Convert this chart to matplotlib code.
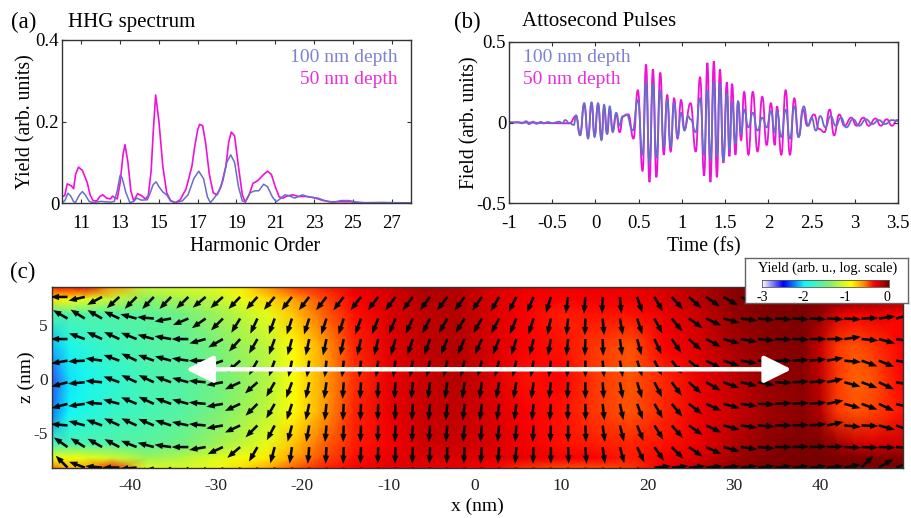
import numpy as np
import matplotlib
matplotlib.use("Agg")
import matplotlib.pyplot as plt
from matplotlib.colors import LinearSegmentedColormap
from matplotlib.path import Path
from matplotlib.patches import PathPatch

plt.rcParams['font.family'] = ['Liberation Serif', 'DejaVu Serif']

# ---------- (a) HHG spectrum ----------
spec_x_50 = [10.0,10.14,10.27,10.48,10.6,10.7,10.85,11.05,11.3,11.45,11.6,11.8,11.95,12.1,12.3,12.5,12.6,12.75,12.85,13.0,13.15,13.25,13.4,13.55,13.7,13.9,14.1,14.3,14.45,14.6,14.7,14.83,15.0,15.2,15.4,15.6,15.85,16.1,16.4,16.7,16.85,17.0,17.1,17.25,17.4,17.6,17.8,18.0,18.2,18.45,18.6,18.73,18.9,19.1,19.3,19.45,19.65,19.85,20.1,20.4,20.6,20.8,21.0,21.2,21.4,21.6,21.9,22.2,22.6,23.0,23.4,23.8,24.4,24.9,25.3,26.0,28.0]
spec_y_50 = [.016,.018,.047,.042,.035,.07,.088,.08,.05,.02,.006,.005,.016,.02,.012,.01,.017,.012,.01,.05,.12,.143,.1,.03,.005,.023,.018,.01,.018,.08,.17,.265,.2,.09,.025,.006,.001,.008,.035,.09,.14,.18,.193,.19,.15,.07,.025,.02,.04,.09,.15,.174,.165,.09,.02,.002,.02,.048,.055,.07,.078,.07,.04,.015,.012,.017,.02,.016,.016,.013,.007,.003,.003,.003,.001,.0005,0]
spec_x_100 = [10.0,10.15,10.3,10.45,10.6,10.7,10.9,11.05,11.2,11.4,11.6,12.0,12.5,12.7,12.85,13.0,13.1,13.3,13.5,13.7,13.85,14.1,14.4,14.55,14.7,14.85,15.0,15.2,15.4,15.6,15.85,16.2,16.5,16.8,17.05,17.3,17.5,17.65,17.85,18.1,18.3,18.5,18.7,18.9,19.1,19.3,19.45,19.7,19.95,20.15,20.4,20.6,20.85,21.05,21.3,21.5,21.7,22.0,22.4,22.7,23.2,23.6,24.0,24.4,24.8,25.2,25.6,26.5,27.0,28.0]
spec_y_100 = [.001,.006,.024,.017,.003,.002,.02,.028,.02,.004,.001,.004,.002,.004,.03,.068,.062,.025,.001,.004,.012,.007,.008,.025,.045,.052,.04,.027,.02,.005,.001,.005,.02,.06,.078,.06,.015,.001,.012,.03,.055,.1,.118,.1,.04,.005,.003,.025,.03,.03,.046,.04,.015,.003,.012,.02,.018,.012,.02,.015,.012,.005,.002,.006,.006,.002,.0005,.0015,.001,0]

# ---------- (b) Attosecond pulses (turning points of the field) ----------
t_100 = [-1,-.9,-.85,-.8,-.77,-.72,-.68,-.63,-.6,-.55,-.5,-.42,-.38,-.35,-.3,-.25,-.225,-.178,-.13,-.085,-.045,-.01,.03,.07,.1,.135,.165,.2,.24,.28,.31,.36,.43,.49,.545,.585,.625,.665,.705,.75,.79,.83,.87,.91,.95,.99,1.03,1.07,1.1,1.16,1.21,1.257,1.295,1.33,1.37,1.405,1.44,1.48,1.52,1.55,1.58,1.62,1.65,1.685,1.72,1.77,1.82,1.875,1.93,1.98,2.03,2.075,2.1,2.15,2.2,2.25,2.3,2.35,2.41,2.46,2.5,2.55,2.6,2.66,2.72,2.78,2.84,2.9,2.98,3.05,3.13,3.2,3.28,3.35,3.43,3.5]
f_100 = [0,.002,-.005,.008,-.01,.005,-.008,.004,-.006,.003,-.004,.005,-.005,.015,-.005,-.015,.045,-.08,.12,-.1,.125,-.09,.12,-.11,.11,-.07,.1,-.06,.06,-.02,.035,.05,-.05,.14,-.2,.25,-.25,.24,-.22,.2,-.15,.14,-.15,.12,-.09,.06,-.05,.04,.02,-.06,.15,-.2,.2,-.23,.25,-.21,.24,-.24,.18,-.17,.13,-.13,.13,-.07,.08,-.03,.06,-.05,.03,-.03,.07,-.06,.07,-.09,.08,-.1,.1,-.09,.1,-.02,.03,-.05,.04,-.03,.04,-.02,.03,-.03,.02,-.02,.02,-.01,.015,-.01,.015,.01]
t_50 = [-1,-.3,-.225,-.178,-.13,-.085,-.045,-.01,.03,.07,.1,.135,.165,.2,.24,.28,.32,.38,.44,.49,.545,.585,.625,.665,.705,.75,.79,.83,.87,.91,.95,.99,1.03,1.1,1.16,1.21,1.257,1.295,1.33,1.37,1.405,1.44,1.48,1.52,1.55,1.58,1.62,1.65,1.685,1.72,1.77,1.82,1.875,1.93,1.98,2.03,2.075,2.1,2.15,2.2,2.25,2.3,2.35,2.4,2.45,2.53,2.585,2.65,2.71,2.76,2.82,2.88,2.96,3.02,3.1,3.16,3.24,3.3,3.37,3.43,3.49,3.5]
f_50 = [0,-.005,.04,-.075,.11,-.09,.12,-.08,.11,-.1,.09,-.07,.08,-.05,.05,-.06,.04,.05,-.1,.2,-.3,.36,-.37,.33,-.34,.31,-.2,.17,-.18,.15,-.1,.14,-.04,.12,-.18,.28,-.33,.37,-.37,.38,-.34,.33,-.25,.25,-.21,.24,-.2,.13,-.11,.19,-.2,.19,-.18,.16,-.14,.12,-.14,.1,-.2,.2,-.2,.15,-.09,.08,-.02,.05,-.04,-.06,.08,-.08,.05,-.02,.03,-.02,.03,-.02,.025,-.02,.02,-.02,.015,.01]

# ---------- (c) yield map ----------
map_x = [-49.4,-47,-45,-42,-38,-34,-30,-27,-24,-21,-18,-14,-10,-6,-2,2,6,10,14,18,22,26,30,34,38,40,42,44,46,49.6]
map_z = [8.6,7.4,6,3,0,-3,-6,-7.3,-8.4]
map_r0 = [-.4,-.35,-.3,-.6,-1.1,-1.05,-1.0,-.85,-.6,-.45,-.4,-.3,-.22,-.12,-.15,-.25,-.3,-.32,-.3,-.3,-.25,-.15,-.05,-.02,0,0,0,0,-.02,-.02]
map_r1 = [-.8,-.9,-1.0,-1.15,-1.35,-1.25,-1.15,-.98,-.8,-.65,-.5,-.35,-.25,-.15,-.15,-.25,-.32,-.35,-.32,-.32,-.25,-.15,-.05,-.02,0,0,-.02,-.02,-.05,-.1]
map_r2 = [-1.7,-1.65,-1.65,-1.65,-1.6,-1.5,-1.3,-1.15,-1.0,-.75,-.55,-.38,-.25,-.18,-.15,-.25,-.35,-.4,-.38,-.38,-.3,-.2,-.08,-.03,-.02,-.08,-.25,-.35,-.3,-.35]
map_r3 = [-2.15,-1.95,-1.85,-1.75,-1.65,-1.6,-1.45,-1.3,-1.15,-.9,-.68,-.42,-.27,-.18,-.15,-.25,-.35,-.38,-.45,-.5,-.35,-.25,-.12,-.05,-.03,-.2,-.45,-.5,-.45,-.35]
map_r4 = [-2.6,-2.05,-1.95,-1.85,-1.7,-1.65,-1.5,-1.35,-1.2,-.92,-.7,-.44,-.3,-.2,-.15,-.25,-.38,-.35,-.45,-.5,-.42,-.3,-.18,-.08,-.05,-.18,-.45,-.52,-.5,-.35]
map_r5 = [-2.3,-2.0,-1.9,-1.8,-1.7,-1.62,-1.45,-1.3,-1.15,-.9,-.68,-.42,-.3,-.2,-.18,-.25,-.35,-.38,-.45,-.5,-.42,-.3,-.2,-.1,-.05,-.15,-.45,-.5,-.48,-.38]
map_r6 = [-1.75,-1.7,-1.68,-1.65,-1.6,-1.5,-1.3,-1.15,-1.0,-.75,-.55,-.4,-.33,-.22,-.2,-.25,-.33,-.38,-.4,-.42,-.38,-.3,-.15,-.05,-.02,-.02,-.1,-.2,-.25,-.2]
map_r7 = [-1,-.95,-1,-1.1,-1.3,-1.2,-1.05,-.95,-.85,-.65,-.5,-.38,-.3,-.25,-.25,-.28,-.3,-.33,-.35,-.4,-.33,-.25,-.1,-.03,0,0,-.02,-.02,-.03,-.03]
map_r8 = [-.5,-.7,-.6,-.35,-1,-1.05,-.95,-.8,-.65,-.5,-.4,-.35,-.28,-.28,-.3,-.35,-.45,-.5,-.5,-.45,-.3,-.15,-.05,-.02,0,0,0,0,0,0]

# arrow field: tails and direction (degrees, counter-clockwise from +x)
arrow_x = [-47.2,-45.2,-43.2,-41.2,-39.2,-37.2,-35.2,-33.2,-31.2,-29.2,-27.2,-25.2,-23.2,-21.2,-19.2,-17.2,-15.2,-13.2,-11.2,-9.2,-7.2,-5.2,-3.2,-1.2,.8,2.8,4.8,6.8,8.8,10.8,12.8,14.8,16.8,18.8,20.8,22.8,24.8,26.8,28.8,30.8,32.8,34.8,36.8,38.8,40.8,42.8,44.8,46.8,48.8]
arrow_z = [7.6,5.6,3.7,1.7,-.3,-2.3,-4.3,-6.3,-8.2]
ang_r0 = [180,193,208,222,225,226,226,224,220,222,226,228,230,232,232,232,232,232,232,233,233,233,233,234,235,240,243,247,253,262,265,268,275,288,300,312,318,325,330,335,338,340,345,350,352,355,5,15,20]
ang_r1 = [150,148,150,155,165,175,190,203,215,225,238,245,250,252,252,252,252,250,248,247,245,243,240,238,240,242,247,252,258,264,268,275,280,288,298,310,325,335,345,353,355,357,357,357,357,357,2,8,15]
ang_r2 = [180,160,155,155,158,165,170,180,195,210,228,240,250,255,258,258,258,257,256,254,252,250,248,246,246,248,252,256,260,264,268,272,278,285,295,305,318,332,345,350,355,358,358,0,0,8,355,345,350]
ang_r3 = [190,183,172,160,155,160,165,172,180,200,222,240,250,258,262,264,264,264,262,262,260,258,257,256,255,255,257,260,263,266,270,275,280,288,297,308,320,332,342,350,355,0,3,5,10,355,340,338,350]
ang_r4 = [195,185,175,160,155,155,160,165,175,190,205,222,240,250,258,262,266,267,268,266,265,263,262,262,262,260,260,262,264,267,270,274,280,287,297,307,318,330,340,347,350,358,3,5,12,345,340,335,350]
ang_r5 = [195,188,175,165,157,155,160,165,175,190,205,225,240,252,258,264,267,268,268,268,267,265,265,264,263,263,263,264,266,268,271,276,282,290,300,310,322,335,345,352,358,2,3,5,12,345,340,335,345]
ang_r6 = [175,165,160,155,155,157,162,168,175,190,205,225,242,255,260,265,268,268,268,268,267,266,265,265,265,265,266,267,268,270,272,278,284,292,302,312,325,335,345,352,356,0,2,5,12,355,358,345,340]
ang_r7 = [145,148,150,152,158,165,172,180,190,205,220,240,255,262,265,267,268,268,268,268,268,268,268,267,266,266,266,268,270,272,274,278,285,295,305,315,325,335,345,352,355,0,2,2,2,358,358,358,355]
ang_r8 = [135,160,175,180,185,200,215,230,240,250,255,260,265,268,268,268,268,268,268,268,268,268,268,268,268,268,268,268,270,272,275,280,290,300,5,5,5,5,5,5,5,5,5,5,5,10,45,30,20]

# colormap stops (value, colour)
cmap_val = [-3.0,-2.5,-2.0,-1.4,-.9,-.6,-.35,-.15,0.0]
cmap_col = ['#ffffff','#0000ff','#10f8f8','#80f070','#ffff00','#ff9000','#ff0000','#b80000','#780000']

# ---------- figure ----------
W, H = 912, 518
fig = plt.figure(figsize=(W/100, H/100), dpi=100)

def box(l, t, r, b):
    return [l/W, 1-b/H, (r-l)/W, (b-t)/H]

def ftext(x, y, s, **kw):
    fig.text(x/W, 1-y/H, s, **kw)

BLUE, MAG = '#6a6ccc', '#ee12d8'
BLUE_T, MAG_T = '#7f82d2', '#e92fd8'
EDGE = '#333333'

def style(ax):
    for s in ax.spines.values():
        s.set_color(EDGE)
        s.set_linewidth(1.0)

def wave(ax, xs, ys, color, lw):
    """Smooth stroke through the turning points, flat at each one."""
    verts, codes = [(xs[0], ys[0])], [Path.MOVETO]
    for x0, y0, x1, y1 in zip(xs[:-1], ys[:-1], xs[1:], ys[1:]):
        xm = (x0 + x1) / 2
        verts += [(xm, y0), (xm, y1), (x1, y1)]
        codes += [Path.CURVE4] * 3
    ax.add_patch(PathPatch(Path(verts, codes), fill=False, edgecolor=color, lw=lw))

# (a)
ax = fig.add_axes(box(62, 40, 411, 203))
ax.plot(spec_x_50, spec_y_50, color=MAG, lw=1.2)
ax.plot(spec_x_100, spec_y_100, color=BLUE, lw=1.1)
ax.set_xlim(10, 28); ax.set_ylim(0, .4)
ax.set_xticks(range(11, 28, 2)); ax.set_yticks([0, .2, .4]); ax.set_yticklabels(['0', '0.2', '0.4'])
ax.tick_params(direction='in', top=True, right=True, labelsize=13.5, length=3, color=EDGE)
ax.tick_params(axis='x', pad=9)
ax.tick_params(axis='y', pad=2)
ax.set_xlabel('Harmonic Order', fontsize=14.2, labelpad=3, x=.553)
ax.set_ylabel('Yield (arb. units)', fontsize=14.2, labelpad=0)
style(ax)
ftext(398, 58, '100 nm depth', color=BLUE_T, fontsize=14, ha='right', va='center')
ftext(398, 80, '50 nm depth', color=MAG_T, fontsize=14, ha='right', va='center')
ftext(11, 22, '(a)', fontsize=16.5, va='center')
ftext(68, 22, 'HHG spectrum', fontsize=15, va='center')

# (b)
ax = fig.add_axes(box(509, 42, 898, 203))
wave(ax, t_50, f_50, MAG, 1.3)
wave(ax, t_100, f_100, BLUE, 1.3)
ax.set_xlim(-1, 3.5); ax.set_ylim(-.5, .5)
ax.set_xticks([-1, -.5, 0, .5, 1, 1.5, 2, 2.5, 3, 3.5])
ax.set_xticklabels(['-1', '-0.5', '0', '0.5', '1', '1.5', '2', '2.5', '3', '3.5'])
ax.set_yticks([-.5, 0, .5]); ax.set_yticklabels(['-0.5', '0', '0.5'])
ax.tick_params(direction='in', top=True, right=True, labelsize=13.5, length=3, color=EDGE)
ax.tick_params(axis='x', pad=9)
ax.tick_params(axis='y', pad=2)
ax.set_xlabel('Time (fs)', fontsize=14.2, labelpad=3)
ax.set_ylabel('Field (arb. units)', fontsize=14.2, labelpad=-2)
style(ax)
ftext(523, 58, '100 nm depth', color=BLUE_T, fontsize=14, va='center')
ftext(523, 80, '50 nm depth', color=MAG_T, fontsize=14, va='center')
ftext(454, 22, '(b)', fontsize=16.5, va='center')
ftext(522, 22, 'Attosecond Pulses', fontsize=15, va='center')

# (c)
cmap = LinearSegmentedColormap.from_list('yield', [((v+3)/3, c) for v, c in zip(cmap_val, cmap_col)])
ax = fig.add_axes(box(52, 287, 903, 468))
Z = np.array([map_r0, map_r1, map_r2, map_r3, map_r4, map_r5, map_r6, map_r7, map_r8])
ax.pcolormesh(map_x, map_z, Z, shading='gouraud', cmap=cmap, vmin=-3, vmax=0)
A = np.radians([ang_r0, ang_r1, ang_r2, ang_r3, ang_r4, ang_r5, ang_r6, ang_r7, ang_r8])
ax.quiver(arrow_x, arrow_z, np.cos(A), np.sin(A), angles='uv', pivot='tail',
          scale_units='inches', scale=1/.168, units='inches', width=.026,
          headwidth=2.5, headlength=3.2, headaxislength=3.2, color='#0a0a0a', zorder=3)
ax.annotate('', xy=(-33.5, .9), xytext=(36.7, .9),
            arrowprops=dict(arrowstyle='<|-|>,head_length=.83,head_width=.41', mutation_scale=20,
                            color='white', lw=3.2, shrinkA=0, shrinkB=0), zorder=4)
ax.set_xlim(-49.0, 49.6); ax.set_ylim(-8.24, 8.52)
ax.set_xticks(range(-40, 41, 10)); ax.set_xticklabels([str(v) for v in range(-40, 41, 10)])
ax.set_yticks([-5, 0, 5]); ax.set_yticklabels(['-5', '0', '5'])
ax.tick_params(length=0, labelsize=12.5, colors='#222222')
ax.tick_params(axis='x', pad=7)
ax.tick_params(axis='y', pad=3)
ax.set_xlabel('x (nm)', fontsize=14, labelpad=3)
ax.set_ylabel('z (nm)', fontsize=14, labelpad=-1)
style(ax)
ftext(10, 272, '(c)', fontsize=16.5, va='center')

# colour key
key = fig.add_axes(box(745, 258, 908, 303), zorder=5)
key.set_xticks([]); key.set_yticks([])
key.set_facecolor('white')
for s in key.spines.values():
    s.set_color('#666666'); s.set_linewidth(1.0)
bar = fig.add_axes(box(762, 280, 889, 287), zorder=6)
bar.imshow(np.linspace(-3.0, 0, 256)[None, :], aspect='auto', cmap=cmap, vmin=-3, vmax=0,
           extent=[-3.0, .05, 0, 1])
bar.set_yticks([]); bar.set_xticks([-3, -2, -1, 0]); bar.set_xticklabels(['-3', '-2', '-1', '0'])
bar.tick_params(length=0, labelsize=10, pad=3)
for s in bar.spines.values():
    s.set_color('#555555'); s.set_linewidth(.6)
ftext(828, 268, 'Yield (arb. u., log. scale)', fontsize=10.2, ha='center', va='center', zorder=7)

fig.savefig('out.png', dpi=100)
